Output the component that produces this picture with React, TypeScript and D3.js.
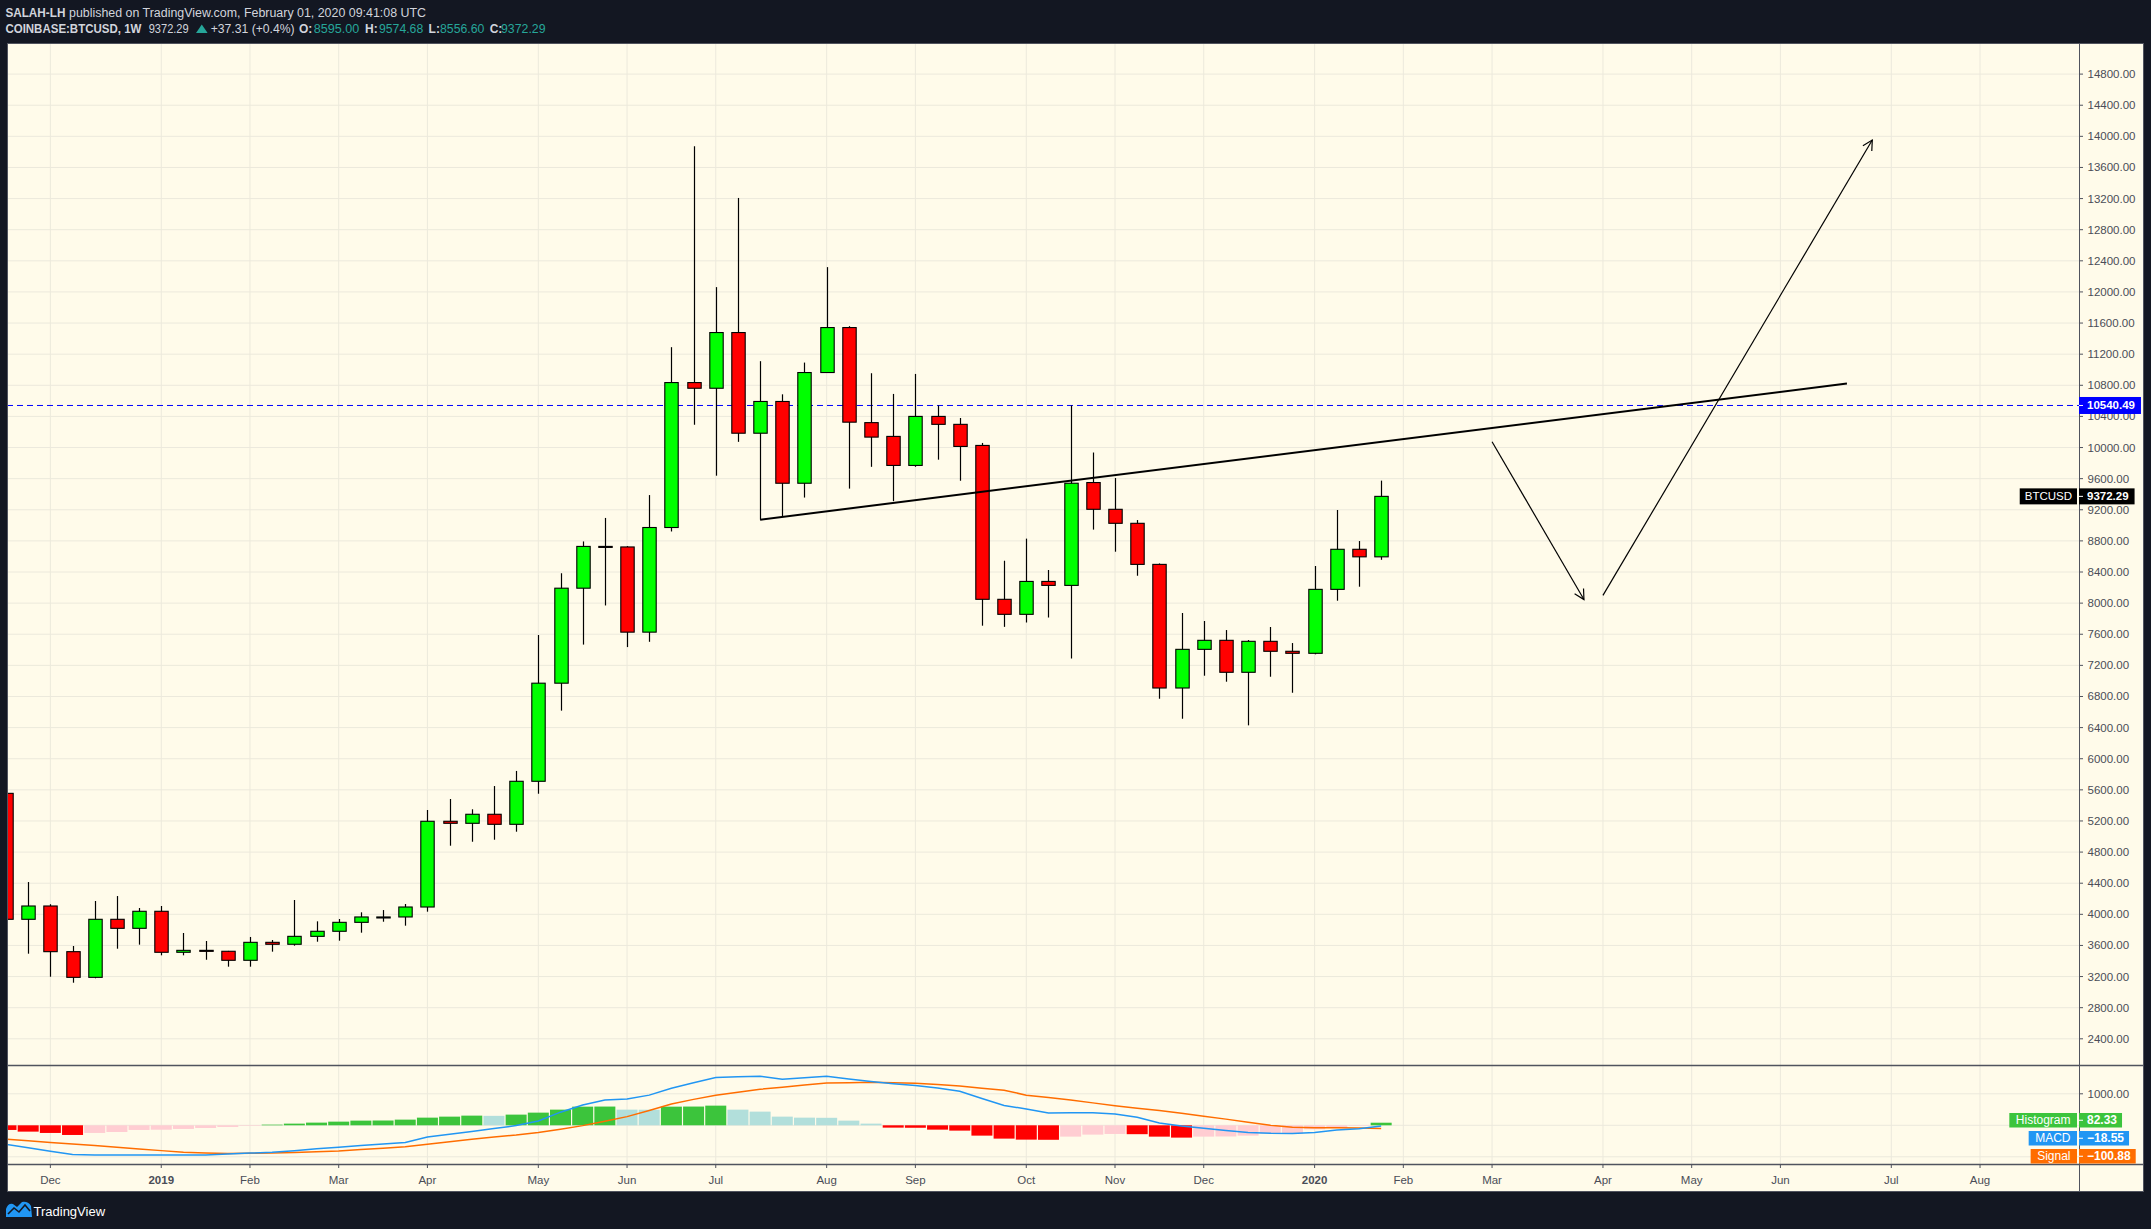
import React from "react";
import * as d3 from "d3";

const WIDTH = 2151;
const HEIGHT = 1229;

// ---------- DATA ----------
const FIRST_WEEK = new Date(Date.UTC(2018, 10, 19));
const LAST_WEEK = new Date(Date.UTC(2020, 0, 27));
const weeks = d3.utcMonday.range(FIRST_WEEK, d3.utcDay.offset(LAST_WEEK, 1));

const opens = [5555, 3936, 4107, 3520, 3190, 3936, 3820, 4039, 3512, 3537, 3525, 3409, 3640, 3615, 3717, 3782, 3897, 3962, 3966, 4094, 5196, 5170, 5286, 5157, 5710, 6971, 8192, 8729, 8722, 7627, 8972, 10835, 10762, 11478, 10184, 10592, 9541, 10964, 11542, 10320, 10143, 9770, 10400, 10298, 10027, 8049, 7856, 8279, 8228, 9550, 9206, 9026, 8498, 6909, 7406, 7522, 7111, 7509, 7381, 7355, 8177, 8692, 8595];
const highs = [5640, 4415, 4130, 3593, 4171, 4235, 4081, 4107, 3760, 3657, 3530, 3709, 3670, 4184, 3910, 3940, 4026, 4055, 4133, 5341, 5482, 5350, 5649, 5843, 7590, 8384, 8793, 9095, 8733, 9389, 11290, 13874, 12062, 13208, 11110, 10684, 11092, 12319, 11560, 10955, 10689, 10946, 10541, 10380, 10059, 8545, 8829, 8426, 10540.49, 9936, 9608, 9068, 8510, 7873, 7770, 7654, 7526, 7693, 7487, 8477, 9197, 8798, 9574.68];
const lows = [3560, 3494, 3198, 3121, 3178, 3558, 3610, 3473, 3473, 3416, 3327, 3327, 3520, 3597, 3648, 3661, 3764, 3905, 3854, 4034, 4882, 4933, 4959, 5062, 5550, 6618, 7467, 7970, 7435, 7503, 8921, 10294, 9638, 10073, 9073, 9118, 9357, 10960, 9472, 9752, 9311, 9752, 9844, 9573, 7710, 7695, 7751, 7815, 7288, 8945, 8661, 8352, 6771, 6514, 7067, 6990, 6429, 7054, 6848, 7342, 8031, 8211, 8556.6];
const closes = [3936, 4107, 3520, 3190, 3936, 3820, 4039, 3512, 3537, 3525, 3409, 3640, 3615, 3717, 3782, 3897, 3966, 3966, 4094, 5196, 5170, 5286, 5157, 5710, 6971, 8192, 8729, 8722, 7627, 8972, 10835, 10762, 11478, 10184, 10592, 9541, 10964, 11542, 10326, 10134, 9770, 10400, 10298, 10014, 8049, 7856, 8279, 8228, 9541, 9206, 9026, 8498, 6909, 7406, 7522, 7111, 7509, 7381, 7355, 8177, 8692, 8595, 9372.29];

const histogram = [-148, -201, -243, -307, -243, -212, -148, -140, -116, -85, -53, -3, 21, 53, 85, 116, 148, 152, 180, 243, 275, 307, 300, 339, 402, 497, 592, 595, 497, 495, 592, 595, 624, 497, 434, 275, 243, 238, 148, 53, -74, -78, -138, -169, -328, -423, -455, -460, -360, -296, -275, -282, -360, -391, -360, -355, -328, -265, -260, -127, -85, -8, 82.33];
const macdLine = [-603, -712, -821, -925, -940, -942, -942, -942, -942, -940, -910, -882, -858, -805, -748, -694, -639, -590, -544, -370, -285, -200, -104, -8, 137, 417, 643, 801, 835, 958, 1178, 1353, 1520, 1540, 1555, 1462, 1508, 1555, 1471, 1388, 1320, 1262, 1181, 1081, 849, 630, 519, 387, 395, 400, 362, 254, 70, -22, -97, -165, -229, -254, -262, -226, -148, -109, -18.55];
const signalLine = [-444, -494, -543, -595, -645, -697, -750, -804, -857, -876, -895, -890, -878, -860, -839, -814, -772, -730, -680, -601, -519, -445, -372, -310, -228, -126, -10, 131, 275, 470, 675, 823, 957, 1051, 1143, 1209, 1278, 1344, 1353, 1365, 1351, 1334, 1294, 1250, 1180, 1115, 955, 880, 800, 712, 623, 545, 471, 383, 290, 196, 99, 2, -59, -74, -76, -82, -100.88];

const priceTicks = d3.range(2400, 14801, 400);
const macdTicks = [1000];
const monthLabels = ["Dec", "2019", "Feb", "Mar", "Apr", "May", "Jun", "Jul", "Aug", "Sep", "Oct", "Nov", "Dec", "2020", "Feb", "Mar", "Apr", "May", "Jun", "Jul", "Aug"];
const monthDates = ["2018-12-03", "2019-01-07", "2019-02-04", "2019-03-04", "2019-04-01", "2019-05-06", "2019-06-03", "2019-07-01", "2019-08-05", "2019-09-02", "2019-10-07", "2019-11-04", "2019-12-02", "2020-01-06", "2020-02-03", "2020-03-02", "2020-04-06", "2020-05-04", "2020-06-01", "2020-07-06", "2020-08-03"];

const hLineLevel = 10540.49;
const trendLine: [string, number][] = [["2019-07-15", 9073], ["2020-06-22", 10823]];
const arrowDown: [string, number][] = [["2020-03-02", 10075], ["2020-03-31", 8046]];
const arrowUp: [string, number][] = [["2020-04-06", 8099], ["2020-06-30", 13953]];

// ---------- LAYOUT ----------
const PANE_L = 7;
const AXIS_X = 2079;
const FRAME_R = 2144;
const PANE_T = 43;
const MAIN_B = 1065;
const MACD_B = 1164;
const TIME_B = 1192;

const CREAM = "#fffbea";
const DARK = "#131722";
const GRID = "#ece9dc";
const AXIS_LINE = "#50535e";
const AXIS_TEXT = "#4a4d57";
const FONT = "'Liberation Sans', Arial, sans-serif";
const UP = "#00ff00";
const DOWN = "#ff0000";
const H_UP = "#3cc43c";
const H_UP_FALL = "#b2dfdb";
const H_DN = "#ff0000";
const H_DN_RISE = "#ffcdd2";
const MACD_COLOR = "#2196f3";
const SIGNAL_COLOR = "#ff6d00";
const TEAL = "#26a69a";

const x = d3.scaleUtc().domain([FIRST_WEEK, LAST_WEEK]).range([6, 6 + 62 * 22.18]);
const y = d3.scaleLinear().domain([2400, 14800]).range([1038.8, 74.1]);
const ym = d3.scaleLinear().domain([-1000, 1000]).range([1156.8, 1093.8]);
const pDate = (s: string) => new Date(s + "T00:00:00Z");

let measureCtx: CanvasRenderingContext2D | null = null;
function textW(t: string, size: number, weight = "normal") {
  if (!measureCtx && typeof document !== "undefined") {
    measureCtx = document.createElement("canvas").getContext("2d");
  }
  if (!measureCtx) return t.length * size * 0.55;
  measureCtx.font = `${weight} ${size}px 'Liberation Sans', Arial, sans-serif`;
  return measureCtx.measureText(t).width;
}

function AxisTag({ yc, name, value, color, h, fs = 11.5, pad = 10, vpad = 14 }: { yc: number; name?: string; value: string; color: string; h: number; fs?: number; pad?: number; vpad?: number }) {
  const nameW = name ? textW(name, fs) + pad : 0;
  const valW = textW(value, fs, "bold") + vpad;
  return (
    <g fontFamily={FONT} fontSize={fs}>
      {name && <rect x={AXIS_X - 2 - nameW} y={yc - h / 2} width={nameW} height={h} fill={color} />}
      {name && (
        <text x={AXIS_X - 2 - nameW / 2} y={yc} textAnchor="middle" dominantBaseline="central" fill="#fff">
          {name}
        </text>
      )}
      <rect x={AXIS_X} y={yc - h / 2} width={valW} height={h} fill={color} />
      <line x1={AXIS_X} x2={AXIS_X + 4} y1={yc} y2={yc} stroke="#fff" strokeWidth={1} />
      <text x={AXIS_X + 8} y={yc} dominantBaseline="central" fill="#fff" fontWeight="bold">
        {value}
      </text>
    </g>
  );
}

function Arrow({ pts }: { pts: [string, number][] }) {
  const x1 = x(pDate(pts[0][0])), y1 = y(pts[0][1]);
  const x2 = x(pDate(pts[1][0])), y2 = y(pts[1][1]);
  const ang = Math.atan2(y2 - y1, x2 - x1);
  const L = 11, a = (28 * Math.PI) / 180;
  const h1 = [x2 - L * Math.cos(ang - a), y2 - L * Math.sin(ang - a)];
  const h2 = [x2 - L * Math.cos(ang + a), y2 - L * Math.sin(ang + a)];
  return (
    <g stroke="#000" strokeWidth={1.2} fill="none">
      <line x1={x1} y1={y1} x2={x2} y2={y2} />
      <polyline points={`${h1[0]},${h1[1]} ${x2},${y2} ${h2[0]},${h2[1]}`} />
    </g>
  );
}

export default function App() {
  const bodyW = 13.4;
  const histW = 21;

  const histColor = (i: number) => {
    const v = histogram[i];
    const prev = i > 0 ? histogram[i - 1] : v + (v < 0 ? 1 : -1);
    if (v >= 0) return v >= prev ? H_UP : H_UP_FALL;
    return v < prev ? H_DN : H_DN_RISE;
  };

  const lineGen = d3
    .line<number>()
    .x((_, i) => x(weeks[i]))
    .y((d) => ym(d));

  const monthX = monthDates.map((d) => x(pDate(d)));

  const tagH = 14.5;
  const tags = [
    { name: "Histogram", value: histogram[histogram.length - 1].toFixed(2), color: H_UP },
    { name: "MACD", value: "\u2212" + Math.abs(macdLine[macdLine.length - 1]).toFixed(2), color: MACD_COLOR },
    { name: "Signal", value: "\u2212" + Math.abs(signalLine[signalLine.length - 1]).toFixed(2), color: SIGNAL_COLOR },
  ];

  const lastClose = closes[closes.length - 1];

  return (
    <svg
      width={WIDTH}
      height={HEIGHT}
      style={{ position: "absolute", left: 0, top: 0, display: "block" }}
      fontFamily={FONT}
    >
      <defs>
        <clipPath id="mainClip">
          <rect x={PANE_L} y={PANE_T} width={AXIS_X - PANE_L} height={MAIN_B - PANE_T} />
        </clipPath>
        <clipPath id="macdClip">
          <rect x={PANE_L} y={MAIN_B} width={AXIS_X - PANE_L} height={MACD_B - MAIN_B} />
        </clipPath>
      </defs>
      <rect x={0} y={0} width={WIDTH} height={HEIGHT} fill={DARK} />

      {/* Header */}
      <g fill="#d1d4dc" fontSize={12}>
        <text x={5.4} y={17} fontWeight="bold" textLength={60} lengthAdjust="spacingAndGlyphs">SALAH-LH</text>
        <text x={69} y={17} textLength={357} lengthAdjust="spacingAndGlyphs">
          published on TradingView.com, February 01, 2020 09:41:08 UTC
        </text>
        <text x={5.4} y={33.3} fontWeight="bold" textLength={136} lengthAdjust="spacingAndGlyphs">COINBASE:BTCUSD, 1W</text>
        <text x={148.7} y={33.3} textLength={40} lengthAdjust="spacingAndGlyphs">9372.29</text>
        <polygon points="196,33 207.6,33 201.8,24.5" fill={TEAL} />
        <text x={210.7} y={33.3} textLength={84} lengthAdjust="spacingAndGlyphs">+37.31 (+0.4%)</text>
        <text x={299} y={33.3} fontWeight="bold">O:</text>
        <text x={313.8} y={33.3} fill={TEAL} textLength={45.6} lengthAdjust="spacingAndGlyphs">8595.00</text>
        <text x={365} y={33.3} fontWeight="bold">H:</text>
        <text x={379} y={33.3} fill={TEAL} textLength={44.2} lengthAdjust="spacingAndGlyphs">9574.68</text>
        <text x={428.6} y={33.3} fontWeight="bold">L:</text>
        <text x={440} y={33.3} fill={TEAL} textLength={44.4} lengthAdjust="spacingAndGlyphs">8556.60</text>
        <text x={489.7} y={33.3} fontWeight="bold">C:</text>
        <text x={501} y={33.3} fill={TEAL} textLength={44.5} lengthAdjust="spacingAndGlyphs">9372.29</text>
      </g>

      {/* Chart frame background */}
      <rect x={PANE_L} y={PANE_T} width={FRAME_R - PANE_L} height={TIME_B - PANE_T} fill={CREAM} />

      {/* Grid */}
      <g stroke={GRID} strokeWidth={1}>
        {priceTicks.map((p) => (
          <line key={"hg" + p} x1={PANE_L} x2={AXIS_X} y1={y(p)} y2={y(p)} />
        ))}
        {[-1000, 0, 1000].map((v) => (
          <line key={"mg" + v} x1={PANE_L} x2={AXIS_X} y1={ym(v)} y2={ym(v)} />
        ))}
        {monthX.map((mx, i) => (
          <line key={"vg" + i} x1={mx} x2={mx} y1={PANE_T} y2={MACD_B} />
        ))}
      </g>

      {/* Main pane */}
      <g clipPath="url(#mainClip)">
        <line
          x1={PANE_L}
          x2={AXIS_X}
          y1={y(hLineLevel)}
          y2={y(hLineLevel)}
          stroke="#0000ff"
          strokeWidth={1}
          strokeDasharray="6 4"
        />
        {weeks.map((w, i) => {
          const cx = Math.round(x(w)) + 0.5;
          const o = opens[i], c = closes[i];
          const top = y(Math.max(o, c));
          const bot = y(Math.min(o, c));
          const hgt = Math.max(1, bot - top);
          return (
            <g key={"c" + i}>
              <line x1={cx} x2={cx} y1={y(highs[i])} y2={y(lows[i])} stroke="#000" strokeWidth={1.2} />
              <rect
                x={cx - bodyW / 2}
                y={top}
                width={bodyW}
                height={hgt}
                fill={c >= o ? UP : DOWN}
                stroke="#000"
                strokeWidth={1.1}
              />
            </g>
          );
        })}
        <line
          x1={x(pDate(trendLine[0][0]))}
          y1={y(trendLine[0][1])}
          x2={x(pDate(trendLine[1][0]))}
          y2={y(trendLine[1][1])}
          stroke="#000"
          strokeWidth={2}
        />
        <Arrow pts={arrowDown} />
        <Arrow pts={arrowUp} />
      </g>

      {/* MACD pane */}
      <g clipPath="url(#macdClip)">
        {weeks.map((w, i) => {
          const v = histogram[i];
          const y0 = ym(0);
          const yv = ym(v);
          return (
            <rect
              key={"h" + i}
              x={x(w) - histW / 2}
              y={Math.min(y0, yv)}
              width={histW}
              height={Math.max(0.5, Math.abs(yv - y0))}
              fill={histColor(i)}
            />
          );
        })}
        <path d={lineGen(signalLine) || ""} fill="none" stroke={SIGNAL_COLOR} strokeWidth={1.5} />
        <path d={lineGen(macdLine) || ""} fill="none" stroke={MACD_COLOR} strokeWidth={1.5} />
      </g>

      {/* Separators and axes */}
      <g stroke={AXIS_LINE} strokeWidth={1} fill="none">
        <rect x={PANE_L + 0.5} y={PANE_T + 0.5} width={FRAME_R - PANE_L - 1} height={TIME_B - PANE_T - 1} />
        <line x1={PANE_L} x2={FRAME_R} y1={MAIN_B + 0.5} y2={MAIN_B + 0.5} strokeWidth={1.5} />
        <line x1={PANE_L} x2={FRAME_R} y1={MACD_B + 0.5} y2={MACD_B + 0.5} strokeWidth={1.5} />
        <line x1={AXIS_X + 0.5} x2={AXIS_X + 0.5} y1={PANE_T} y2={TIME_B} />
      </g>

      {/* Price axis */}
      <g fontSize={11.5} fill={AXIS_TEXT}>
        {priceTicks.map((p) => (
          <g key={"pt" + p}>
            <line x1={AXIS_X} x2={AXIS_X + 4} y1={y(p)} y2={y(p)} stroke={AXIS_LINE} />
            <text x={AXIS_X + 8.5} y={y(p)} dominantBaseline="central">
              {p.toFixed(2)}
            </text>
          </g>
        ))}
        {macdTicks.map((v) => (
          <g key={"mt" + v}>
            <line x1={AXIS_X} x2={AXIS_X + 4} y1={ym(v)} y2={ym(v)} stroke={AXIS_LINE} />
            <text x={AXIS_X + 8.5} y={ym(v)} dominantBaseline="central">
              {v.toFixed(2)}
            </text>
          </g>
        ))}
      </g>

      {/* Time axis */}
      <g fontSize={11.5} fill={AXIS_TEXT}>
        {monthLabels.map((m, i) => (
          <g key={"tl" + i}>
            <line x1={monthX[i]} x2={monthX[i]} y1={MACD_B} y2={MACD_B + 4} stroke={AXIS_LINE} />
            <text
              x={monthX[i]}
              y={1180}
              textAnchor="middle"
              dominantBaseline="central"
              fontWeight={/^\d/.test(m) ? "bold" : "normal"}
            >
              {m}
            </text>
          </g>
        ))}
      </g>

      {/* Price tags */}
      <AxisTag yc={y(hLineLevel)} value={hLineLevel.toFixed(2)} color="#0000ff" h={17} />
      <AxisTag yc={y(lastClose)} name="BTCUSD" value={lastClose.toFixed(2)} color="#000000" h={16} />
      {tags.map((t, k) => (
        <AxisTag
          key={t.name}
          yc={MACD_B - 0.5 - tagH / 2 - (tags.length - 1 - k) * 18}
          name={t.name}
          value={t.value}
          color={t.color}
          h={tagH}
          fs={12}
          pad={13}
          vpad={13}
        />
      ))}

      {/* Footer logo */}
      <g>
        <path
          d="M6,1217 L6,1209 Q8,1203 13,1204 L17,1207 L22,1202 Q28,1201 31,1206 L32,1217 Z"
          fill="#2196f3"
        />
        <polyline points="8,1214 14,1208 19,1212 25,1205 30,1211" fill="none" stroke={DARK} strokeWidth={1.6} />
        <text x={33.5} y={1215.5} fill="#ffffff" fontSize={13}>
          TradingView
        </text>
      </g>
    </svg>
  );
}
